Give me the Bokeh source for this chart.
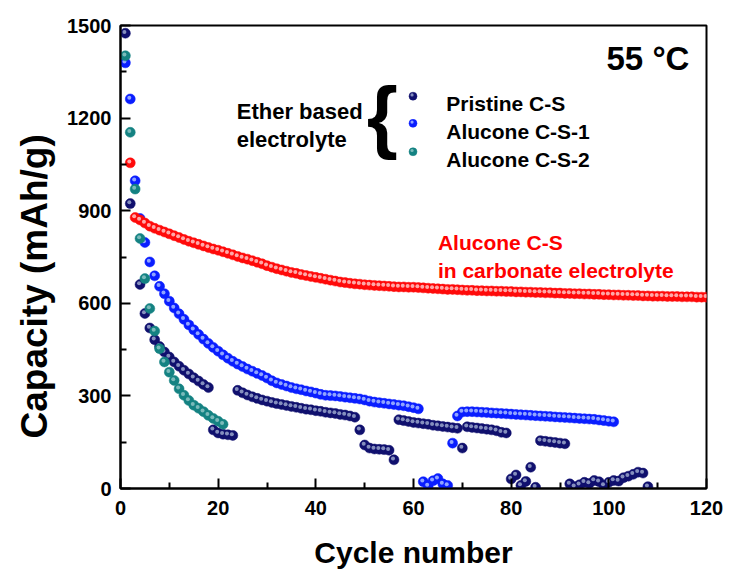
from bokeh.plotting import figure
from bokeh.models import ColumnDataSource, FixedTicker, Label, Title
from bokeh.transform import dodge
from bokeh.embed import file_html
from bokeh.resources import INLINE

# ---------------- data ----------------
x_ticks = [0, 20, 40, 60, 80, 100, 120]
x_minor = [10, 30, 50, 70, 90, 110]
y_ticks = [0, 300, 600, 900, 1200, 1500]
y_minor = [150, 450, 750, 1050, 1350]

pristine_cycle = [1, 2] + list(range(4, 109))
pristine_cap = [1475, 923,
                661, 567, 520, 482, 460, 442, 426, 410, 396, 383, 371, 359, 348, 337, 327,
                190, 180, 176, 174, 172,
                318, 310, 303, 297, 292, 287, 283, 279, 275, 272, 269, 266, 263, 260, 257,
                255, 252, 250, 247, 245, 243, 240, 238, 235, 231,
                190, 141, 131, 128, 127, 126, 124, 93,
                223, 220, 217, 214, 212, 210, 208, 205, 203, 201, 199, 197, 195,
                131,
                200, 198, 196, 194, 192, 190, 187, 182, 180,
                31, 44, 10, 23, 69, 4,
                155, 153, 151, 149, 147, 145,
                15, 6, 12, 20, 16, 26, 22, 10, 20, 26, 24, 35, 40, 46, 53, 50, 6]

alucone1_cycle = list(range(1, 102))
alucone1_cap = [1379, 1262, 997, 875, 797, 734, 689, 655, 631, 607,
                585, 566, 548, 530, 514, 499, 484, 470, 457, 445,
                433, 422, 412, 403, 395, 387, 380, 373, 366, 358,
                349, 342, 337, 332, 327, 323, 320, 316, 313, 309,
                305, 302, 301, 300, 298, 296, 294, 292, 290, 287,
                283, 280, 278, 276, 274, 272, 270, 268, 265, 262,
                258, 22, 8, 25, 32, 15, 10, 147, 235, 248,
                249, 249, 248, 247, 246, 245, 244, 243, 242, 241,
                240, 239, 238, 237, 236, 235, 234, 233, 232, 231,
                230, 229, 228, 227, 226, 225, 224, 222, 220, 218,
                216]

alucone2_cycle = list(range(1, 22))
alucone2_cap = [1402, 1154, 970, 810, 680, 583, 510, 453, 410, 377,
                350, 323, 302, 285, 270, 260, 249, 237, 227, 218, 208]

carbonate_cycle = list(range(2, 121))
carbonate_cap = [1055, 878, 870, 860, 850, 843, 837, 831, 825, 819,
                 813, 807, 801, 796, 791, 786, 781, 776, 772, 767,
                 762, 757, 752, 747, 743, 738, 733, 728, 722, 717,
                 712, 708, 704, 700, 697, 693, 690, 687, 684, 681,
                 678, 675, 672, 669, 667, 665, 663, 662, 660, 659,
                 658, 657, 656, 655, 654, 653, 653, 652, 652, 651,
                 650, 649, 648, 647, 646, 645, 645, 644, 643, 642,
                 642, 641, 641, 640, 640, 639, 639, 638, 638, 637,
                 637, 636, 636, 635, 635, 634, 634, 633, 633, 632,
                 632, 631, 631, 630, 630, 629, 629, 628, 628, 627,
                 627, 626, 626, 625, 625, 624, 624, 623, 623, 623,
                 622, 622, 622, 621, 621, 621, 620, 620, 620]

legend_labels = ["Pristine C-S", "Alucone C-S-1", "Alucone C-S-2"]

# ---------------- figure ----------------
FONT = "Liberation Sans"
p = figure(width=729, height=574, x_range=(0, 120), y_range=(0, 1500),
           output_backend="svg", toolbar_location=None,
           min_border_left=120, min_border_right=23,
           min_border_top=25, min_border_bottom=86)
p.grid.visible = False
p.outline_line_color = "black"
p.outline_line_width = 2
p.background_fill_color = "white"
p.border_fill_color = "white"

p.xaxis.ticker = FixedTicker(ticks=x_ticks, minor_ticks=x_minor)
p.yaxis.ticker = FixedTicker(ticks=y_ticks, minor_ticks=y_minor)
for ax in (p.xaxis[0], p.yaxis[0]):
    ax.axis_line_width = 2
    ax.major_tick_in = 10
    ax.major_tick_out = 0
    ax.minor_tick_in = 6
    ax.minor_tick_out = 0
    ax.major_tick_line_width = 2
    ax.minor_tick_line_width = 2
    ax.major_label_text_font = FONT
    ax.major_label_text_font_style = "bold"
    ax.major_label_text_font_size = "20px"
    ax.major_label_text_color = "black"
    ax.axis_label_text_font = FONT
    ax.axis_label_text_font_style = "bold"
    ax.axis_label_text_color = "black"

p.xaxis.axis_label = "Cycle number"
p.xaxis.axis_label_text_font_size = "30px"
p.xaxis.major_label_standoff = 12
p.xaxis.axis_label_standoff = 18
p.yaxis.major_label_standoff = 9

# y-axis title, placed a little below the frame centre as in the original
p.add_layout(Title(text="Capacity (mAh/g)", align="left", offset=50, standoff=19,
                   text_font=FONT, text_font_style="bold", text_font_size="37px",
                   text_color="black"), "left")


def balls(xs, ys, color, hl, size=10):
    src = ColumnDataSource(dict(x=xs, y=ys))
    p.scatter("x", "y", source=src, size=size, fill_color=color,
              line_color=color, line_width=0.5)
    p.scatter(x=dodge("x", -0.2, range=p.x_range),
              y=dodge("y", 4, range=p.y_range), source=src,
              size=size * 0.4, fill_color=hl, line_color=None, fill_alpha=0.85)


NAVY, NAVY_HL = "#10106e", "#9aa6cc"
BLUE, BLUE_HL = "#0a1eff", "#a8bcff"
TEAL, TEAL_HL = "#148282", "#8cc4c4"
RED, RED_HL = "#ff0a0a", "#ffc4c4"

balls(pristine_cycle, pristine_cap, NAVY, NAVY_HL)
balls(alucone1_cycle, alucone1_cap, BLUE, BLUE_HL)
balls(alucone2_cycle, alucone2_cap, TEAL, TEAL_HL)
balls(carbonate_cycle, carbonate_cap, RED, RED_HL)

# legend (custom)
leg_x = 59.9
leg_y = [1271, 1183, 1091]
lab_y = [1247, 1156, 1066]
for (c, h), ly, ty, lab in zip([(NAVY, NAVY_HL), (BLUE, BLUE_HL), (TEAL, TEAL_HL)],
                               leg_y, lab_y, legend_labels):
    balls([leg_x], [ly], c, h, size=8)
    p.add_layout(Label(x=66.7, y=ty, text=lab, text_font=FONT, text_font_style="bold",
                       text_font_size="21px", text_color="black",
                       text_baseline="alphabetic"))

p.add_layout(Label(x=23.8, y=1220, text="Ether based", text_font=FONT,
                   text_font_style="bold", text_font_size="22px", text_color="black",
                   text_baseline="alphabetic"))
p.add_layout(Label(x=23.8, y=1131, text="electrolyte", text_font=FONT,
                   text_font_style="bold", text_font_size="22px", text_color="black",
                   text_baseline="alphabetic"))
p.add_layout(Label(x=53.6, y=1208, text="{", text_font=FONT, text_font_style="bold",
                   text_font_size="80px", text_color="black", text_align="center",
                   text_baseline="alphabetic"))

p.add_layout(Label(x=65.0, y=796, text="Alucone C-S", text_font=FONT,
                   text_font_style="bold", text_font_size="21px", text_color="#ff0000",
                   text_baseline="alphabetic"))
p.add_layout(Label(x=65.0, y=706, text="in carbonate electrolyte", text_font=FONT,
                   text_font_style="bold", text_font_size="21px", text_color="#ff0000",
                   text_baseline="alphabetic"))

p.add_layout(Label(x=116.5, y=1392, text="55 \u00b0C", text_font=FONT,
                   text_font_style="bold", text_font_size="33px", text_color="black",
                   text_align="right", text_baseline="alphabetic"))

open("out.html", "w").write(file_html(p, INLINE))
